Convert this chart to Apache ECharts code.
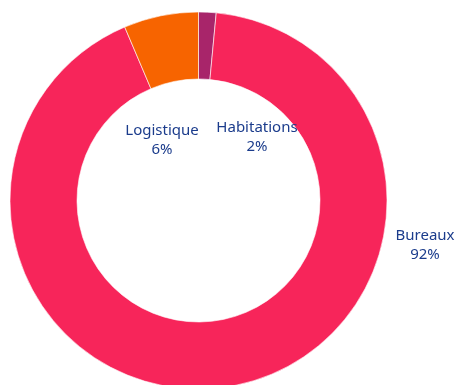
<!DOCTYPE html>
<html><head><meta charset="utf-8">
<script src="https://cdn.jsdelivr.net/npm/echarts@6/dist/echarts.min.js"></script>
<style>html,body{margin:0;padding:0;background:#fff}#c{width:459px;height:385px}</style>
</head><body><div id="c"></div>
<script>
const categories = ['Habitations', 'Bureaux', 'Logistique'];
const values = [1.5, 92.1, 6.4];
const colors = ['#A8256A', '#F7255A', '#F76400'];
const labelSpots = [[257, 137], [425, 245], [162, 140]];

const chart = echarts.init(document.getElementById('c'));
chart.setOption({
  animation: false,
  series: [{
    type: 'pie',
    center: [198.5, 200.5],
    radius: [121.5, 188.5],
    startAngle: 90,
    clockwise: true,
    percentPrecision: 0,
    itemStyle: { borderColor: '#fff', borderWidth: 0.6 },
    label: {
      show: true,
      formatter: '{b}\n{d}%',
      color: '#1B3C8C',
      fontFamily: 'Noto Sans',
      fontSize: 15,
      lineHeight: 19,
      align: 'center'
    },
    labelLine: { show: false },
    labelLayout: function (p) {
      const s = labelSpots[p.dataIndex];
      return { x: s[0], y: s[1], align: 'center', verticalAlign: 'middle' };
    },
    data: categories.map((c, i) => ({ name: c, value: values[i], itemStyle: { color: colors[i] } }))
  }]
});
</script></body></html>
